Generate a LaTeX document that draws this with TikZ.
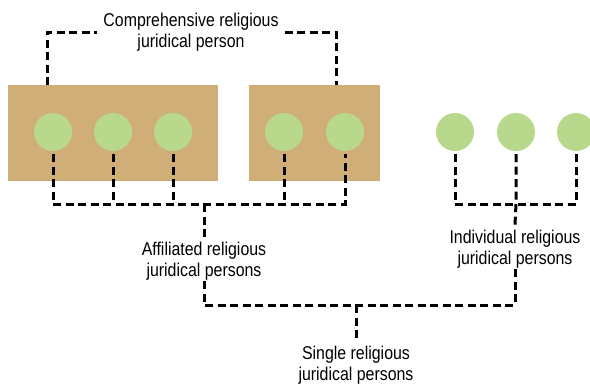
\documentclass[tikz,border=0pt]{standalone}
\usepackage{fontspec}
\setmainfont{Liberation Sans}[FakeStretch=0.86]
\usetikzlibrary{positioning}
\definecolor{boxtan}{RGB}{207,174,120}
\definecolor{dotgreen}{RGB}{184,216,140}
\tikzset{
  member/.style={circle,fill=dotgreen,minimum size=38pt,inner sep=0pt},
  group/.style={fill=boxtan,inner sep=0pt},
  link/.style={draw,line width=3pt,dash pattern=on 8pt off 4.5pt},
  caption/.style={align=center,font=\fontsize{18.5}{21}\selectfont,inner sep=1pt}
}
\begin{document}
\begin{tikzpicture}[x=1pt,y=-1pt]
\useasboundingbox (0,0) rectangle (590,384);
\clip (0,0) rectangle (590,384);

% groups
\node[group,minimum width=210pt,minimum height=96pt] (g1) at (113,133) {};
\node[group,minimum width=131pt,minimum height=96pt] (g2) at (314.5,133) {};

% members
\node[member] (a1) at (53,132) {};
\node[member] (a2) at (113,132) {};
\node[member] (a3) at (173,132) {};
\node[member] (a4) at (284,132) {};
\node[member] (a5) at (345,132) {};
\node[member] (b1) at (455,132) {};
\node[member] (b2) at (516,132) {};
\node[member] (b3) at (576,132) {};

% labels
\node[caption] (comp) at (191,32) {Comprehensive religious\\juridical person};
\node[caption] (aff) at (204,261) {Affiliated religious\\juridical persons};
\node[caption] (ind) at (515,249) {Individual religious\\juridical persons};
\node[caption] (single) at (356,365) {Single religious\\juridical persons};

\coordinate (c1) at (47,85);
\coordinate (c2) at (336,85);
\coordinate (affj) at (204,204);
\coordinate (indj) at (516,204);
\coordinate (singj) at (356,305);

% comprehensive
\draw[link] (c1) |- ([xshift=-5pt]comp.west);
\draw[link] ([xshift=5pt]comp.east) -| (c2);

% affiliated
\draw[link] ([yshift=-3pt]a1.south) |- (a5 |- affj) -- ([yshift=-3pt]a5.south);
\foreach \m in {a2,a3,a4}
  \draw[link] ([yshift=-3pt]\m.south) -- (\m |- affj);
\draw[link] (affj) -- ([yshift=4pt]aff.north);

% individual
\draw[link] ([yshift=-3pt]b1.south) |- (b3 |- indj) -- ([yshift=-3pt]b3.south);
\draw[link] ([yshift=-3pt]b2.south) -- (indj) -- ([yshift=4pt]ind.north);

% single
\draw[link] (aff.south) |- (singj) -| (ind.south);
\draw[link] (singj) -- ([yshift=4pt]single.north);
\end{tikzpicture}
\end{document}
